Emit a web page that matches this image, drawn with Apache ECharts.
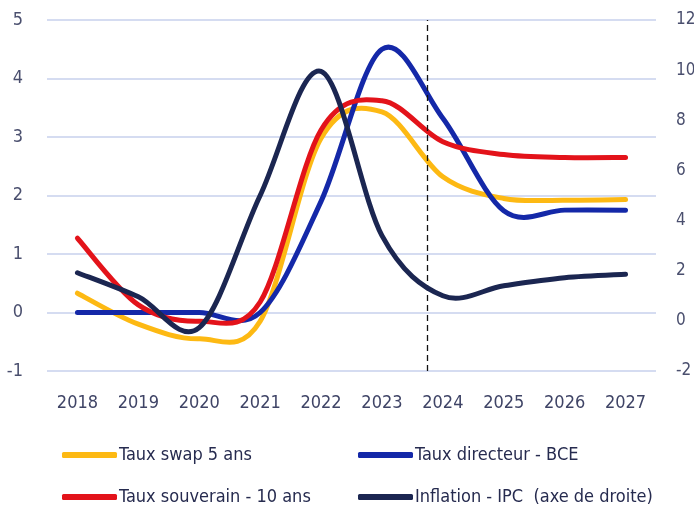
<!DOCTYPE html>
<html>
<head>
<meta charset="utf-8">
<script src="https://cdn.jsdelivr.net/npm/echarts@6/dist/echarts.min.js"></script>
<style>
  html, body { margin: 0; padding: 0; background: #ffffff; }
  #chart { width: 694px; height: 507px; }
</style>
</head>
<body>
<div id="chart"></div>
<script>
// Years shown on the horizontal axis
const years = [2018, 2019, 2020, 2021, 2022, 2023, 2024, 2025, 2026, 2027];

// Rates (%), left axis
const tauxSwap5 = [0.33, -0.20, -0.45, -0.15, 2.98, 3.43, 2.32, 1.95, 1.92, 1.93];
const tauxDirecteur = [0.00, 0.00, 0.00, 0.00, 1.90, 4.50, 3.32, 1.74, 1.75, 1.75];
const tauxSouverain10 = [1.27, 0.13, -0.15, 0.18, 3.12, 3.62, 2.92, 2.70, 2.65, 2.65];

// Inflation (%), right axis
const inflationIPC = [1.92, 0.96, -0.27, 5.00, 9.95, 3.40, 1.00, 1.40, 1.72, 1.86];

// Left and right axis ticks
const leftTicks = { min: -1, max: 5, interval: 1 };
const rightTicks = { min: -2, max: 12, interval: 2 };

// Position of the forecast separator (fraction of year)
const separatorYear = 2023.75;

const names = {
  swap: 'Taux swap 5 ans',
  directeur: 'Taux directeur - BCE',
  souverain: 'Taux souverain - 10 ans',
  inflation: 'Inflation - IPC  (axe de droite)'
};

const FONT = '"Liberation Sans Narrow", "DejaVu Sans Condensed", "Roboto", sans-serif';

// Smooth curve through the yearly points (Catmull-Rom converted to cubic Bezier),
// positioned with the chart's own axes via api.coord.
function smoothPath(values, api) {
  const p = values.map((v, i) => api.coord([years[i], v]));
  const n = p.length;
  let d = 'M' + p[0][0] + ' ' + p[0][1];
  for (let i = 0; i < n - 1; i++) {
    const p0 = p[Math.max(i - 1, 0)];
    const p1 = p[i];
    const p2 = p[i + 1];
    const p3 = p[Math.min(i + 2, n - 1)];
    const c1x = p1[0] + (p2[0] - p0[0]) / 6;
    const c1y = p1[1] + (p2[1] - p0[1]) / 6;
    const c2x = p2[0] - (p3[0] - p1[0]) / 6;
    const c2y = p2[1] - (p3[1] - p1[1]) / 6;
    d += ' C' + c1x + ' ' + c1y + ' ' + c2x + ' ' + c2y + ' ' + p2[0] + ' ' + p2[1];
  }
  return d;
}

function curveSeries(name, values, color, yAxisIndex, z) {
  return {
    name: name,
    type: 'custom',
    xAxisIndex: 1,
    yAxisIndex: yAxisIndex,
    z: z,
    silent: true,
    itemStyle: { color: color },
    encode: { x: 0, y: 1 },
    data: values.map((v, i) => [years[i], v]),
    renderItem: function (params, api) {
      if (params.dataIndexInside !== 0) return null;
      return {
        type: 'path',
        shape: { pathData: smoothPath(values, api) },
        style: { fill: 'none', stroke: color, lineWidth: 5, lineCap: 'round', lineJoin: 'round' }
      };
    }
  };
}

const chart = echarts.init(document.getElementById('chart'), null, { renderer: 'canvas' });

const series = [
  curveSeries(names.swap, tauxSwap5, '#FDB913', 0, 2),
  curveSeries(names.directeur, tauxDirecteur, '#1428A8', 0, 3),
  curveSeries(names.souverain, tauxSouverain10, '#E3131A', 0, 4),
  curveSeries(names.inflation, inflationIPC, '#1B2651', 1, 5),
  {
    // dashed separator between realised and forecast values
    name: 'separator',
    type: 'line',
    xAxisIndex: 1,
    yAxisIndex: 0,
    data: [],
    z: 6,
    markLine: {
      silent: true,
      symbol: 'none',
      label: { show: false },
      lineStyle: { color: '#111111', width: 1.3, type: [6, 4] },
      data: [{ xAxis: separatorYear }]
    }
  }
];

const legendCommon = {
  orient: 'vertical',
  top: 446,
  height: 100,
  padding: 0,
  itemWidth: 55,
  itemHeight: 6,
  itemGap: 24,
  icon: 'roundRect',
  textStyle: { fontFamily: FONT, fontSize: 18, color: '#262B4F', padding: [0, 0, 0, -3] }
};

chart.setOption({
  animation: false,
  backgroundColor: '#ffffff',
  grid: {
    left: 47, right: 38, top: 20, bottom: 136,
    containLabel: false,
    outerBoundsMode: 'none'
  },
  legend: [
    Object.assign({ left: 62, data: [names.swap, names.souverain] }, legendCommon),
    Object.assign({ left: 358, data: [names.directeur, names.inflation] }, legendCommon)
  ],
  xAxis: [
    {
      type: 'category',
      data: years.map(String),
      boundaryGap: true,
      axisLine: { show: false },
      axisTick: { show: false },
      splitLine: { show: false },
      axisLabel: { fontFamily: FONT, fontSize: 18, color: '#3F4466', margin: 23 }
    },
    {
      type: 'value',
      min: years[0] - 0.5,
      max: years[years.length - 1] + 0.5,
      show: false
    }
  ],
  yAxis: [
    {
      type: 'value',
      position: 'left',
      min: leftTicks.min,
      max: leftTicks.max,
      interval: leftTicks.interval,
      axisLine: { show: false },
      axisTick: { show: false },
      splitLine: { show: true, lineStyle: { color: '#D5DCF1', width: 2 } },
      axisLabel: { fontFamily: FONT, fontSize: 18, color: '#4A4F6E', margin: 24 }
    },
    {
      type: 'value',
      position: 'right',
      min: rightTicks.min,
      max: rightTicks.max,
      interval: rightTicks.interval,
      axisLine: { show: false },
      axisTick: { show: false },
      splitLine: { show: false },
      axisLabel: { fontFamily: FONT, fontSize: 17, color: '#4A4F6E', margin: 20 }
    }
  ],
  series: series
});
</script>
</body>
</html>
